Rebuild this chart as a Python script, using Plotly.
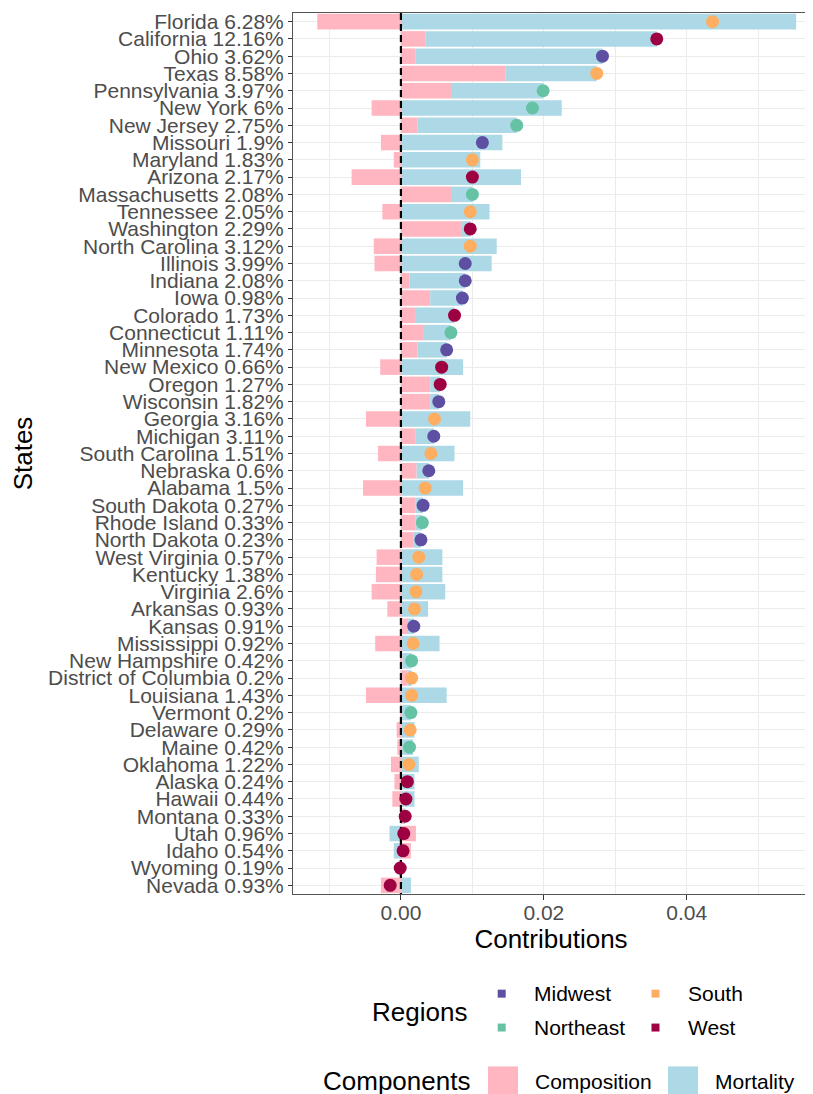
import plotly.graph_objects as go

states = ["Florida", "California", "Ohio", "Texas", "Pennsylvania", "New York", "New Jersey",
          "Missouri", "Maryland", "Arizona", "Massachusetts", "Tennessee", "Washington",
          "North Carolina", "Illinois", "Indiana", "Iowa", "Colorado", "Connecticut", "Minnesota",
          "New Mexico", "Oregon", "Wisconsin", "Georgia", "Michigan", "South Carolina", "Nebraska",
          "Alabama", "South Dakota", "Rhode Island", "North Dakota", "West Virginia", "Kentucky",
          "Virginia", "Arkansas", "Kansas", "Mississippi", "New Hampshire", "District of Columbia",
          "Louisiana", "Vermont", "Delaware", "Maine", "Oklahoma", "Alaska", "Hawaii", "Montana",
          "Utah", "Idaho", "Wyoming", "Nevada"]
shares = ["6.28%", "12.16%", "3.62%", "8.58%", "3.97%", "6%", "2.75%", "1.9%", "1.83%", "2.17%",
          "2.08%", "2.05%", "2.29%", "3.12%", "3.99%", "2.08%", "0.98%", "1.73%", "1.11%", "1.74%",
          "0.66%", "1.27%", "1.82%", "3.16%", "3.11%", "1.51%", "0.6%", "1.5%", "0.27%", "0.33%",
          "0.23%", "0.57%", "1.38%", "2.6%", "0.93%", "0.91%", "0.92%", "0.42%", "0.2%", "1.43%",
          "0.2%", "0.29%", "0.42%", "1.22%", "0.24%", "0.44%", "0.33%", "0.96%", "0.54%", "0.19%",
          "0.93%"]
regions = ["South", "West", "Midwest", "South", "Northeast", "Northeast", "Northeast", "Midwest",
           "South", "West", "Northeast", "South", "West", "South", "Midwest", "Midwest", "Midwest",
           "West", "Northeast", "Midwest", "West", "West", "Midwest", "South", "Midwest", "South",
           "Midwest", "South", "Midwest", "Northeast", "Midwest", "South", "South", "South", "South",
           "Midwest", "South", "Northeast", "South", "South", "Northeast", "South", "Northeast",
           "South", "West", "West", "West", "West", "West", "West", "West"]
composition = [-0.0117, 0.0034, 0.0020, 0.0146, 0.0070, -0.0041, 0.0023, -0.0028, -0.0010, -0.0069,
               0.0070, -0.0026, 0.0084, -0.0038, -0.0037, 0.0012, 0.0041, 0.0021, 0.0031, 0.0023,
               -0.0029, 0.0041, 0.0041, -0.0049, 0.0020, -0.0032, 0.0022, -0.0053, 0.0020, 0.0020,
               0.0018, -0.0034, -0.0035, -0.0041, -0.0019, 0.0010, -0.0036, 0.0002, 0.0009, -0.0049,
               0.0001, -0.0006, -0.0005, -0.0014, -0.0009, -0.0012, 0.0003, 0.0021, 0.0014, 0.0001,
               -0.0028]
mortality = [0.0553, 0.0324, 0.0262, 0.0128, 0.0129, 0.0225, 0.0139, 0.0142, 0.0111, 0.0168,
             0.0030, 0.0124, 0.0013, 0.0134, 0.0127, 0.0078, 0.0045, 0.0054, 0.0039, 0.0041,
             0.0087, 0.0014, 0.0012, 0.0097, 0.0026, 0.0075, 0.0017, 0.0087, 0.0011, 0.0010,
             0.0010, 0.0058, 0.0058, 0.0062, 0.0038, 0.0008, 0.0054, 0.0013, 0.0006, 0.0064,
             0.0013, 0.0019, 0.0017, 0.0025, 0.0019, 0.0019, 0.0003, -0.0016, -0.0010, -0.0003,
             0.0014]
total = [0.0436, 0.0358, 0.0282, 0.0274, 0.0199, 0.0184, 0.0162, 0.0114, 0.0100, 0.0100,
         0.0100, 0.0097, 0.0097, 0.0097, 0.0090, 0.0090, 0.0086, 0.0075, 0.0070, 0.0064,
         0.0057, 0.0055, 0.0053, 0.0047, 0.0046, 0.0042, 0.0039, 0.0034, 0.0031, 0.0030,
         0.0028, 0.0025, 0.0022, 0.0021, 0.0019, 0.0018, 0.0017, 0.0015, 0.0015, 0.0015,
         0.0014, 0.0013, 0.0012, 0.0011, 0.0009, 0.0007, 0.0006, 0.0004, 0.0003, -0.0001,
         -0.0015]
x_tickvals = [0.0, 0.02, 0.04]
x_ticktext = ["0.00", "0.02", "0.04"]
region_order = ["Midwest", "Northeast", "South", "West"]
region_colors = {"Midwest": "#5E4FA2", "Northeast": "#66C2A5", "South": "#FDAE61", "West": "#9E0142"}
comp_color = "#FFB6C1"
mort_color = "#ADD8E6"

labels = [f"{s} {p}" for s, p in zip(states, shares)]
ypos = list(range(len(states)))

FONT = "Liberation Sans, Arial, Helvetica, sans-serif"
OFF = 8  # page body margin offset
W, H = 813 - OFF, 1094 - OFF
ML, MR, MT, MB = 293 - OFF, 4, 10 - OFF, 200
PW, PH = W - ML - MR, H - MT - MB


def px(x):
    return (x - OFF - ML) / PW


def py(y):
    return (OFF + H - MB - y) / PH


fig = go.Figure()
fig.add_trace(go.Bar(y=ypos, x=composition, orientation="h", marker=dict(color=comp_color, line=dict(width=0)),
                     name="Composition", showlegend=False))
fig.add_trace(go.Bar(y=ypos, x=mortality, orientation="h", marker=dict(color=mort_color, line=dict(width=0)),
                     name="Mortality", showlegend=False))
# dashed reference line at zero (drawn between bars and points)
fig.add_trace(go.Scatter(x=[0, 0], y=[-0.5, len(states) - 0.5], mode="lines",
                         line=dict(color="black", width=2.2, dash="7px,4px"), showlegend=False,
                         hoverinfo="skip"))
for reg in region_order:
    idx = [i for i, r in enumerate(regions) if r == reg]
    fig.add_trace(go.Scatter(x=[total[i] for i in idx], y=[ypos[i] for i in idx], mode="markers",
                             marker=dict(size=13, color=region_colors[reg], line=dict(width=0)),
                             name=reg, showlegend=False))

fig.update_layout(
    width=W, height=H, margin=dict(l=ML, r=MR, t=MT, b=MB),
    plot_bgcolor="white", paper_bgcolor="white",
    barmode="relative", bargap=0.1, showlegend=False,
    font=dict(family=FONT, color="black"),
)
fig.update_xaxes(
    range=[-0.0151, 0.0571], tickvals=x_tickvals, ticktext=x_ticktext,
    showgrid=True, gridcolor="#EBEBEB", gridwidth=1.1, zeroline=False,
    minor=dict(tickvals=[-0.01, 0.01, 0.03, 0.05], showgrid=True, gridcolor="#EBEBEB", gridwidth=0.6, ticks=""),
    ticks="outside", ticklen=5, tickcolor="#333333", tickwidth=1,
    ticklabelstandoff=-5, ticklabeloverflow="allow",
    tickfont=dict(size=21, color="#4D4D4D", family=FONT),
    showline=True, mirror=True, linecolor="#555555", linewidth=1,
    title=dict(text="Contributions", font=dict(size=26, color="black", family=FONT), standoff=6),
)
fig.update_yaxes(
    range=[len(states) - 0.5, -0.5], tickvals=ypos, ticktext=labels,
    showgrid=True, gridcolor="#EBEBEB", gridwidth=1.1, zeroline=False,
    ticks="outside", ticklen=4, tickcolor="#333333", tickwidth=1,
    ticklabeloverflow="allow",
    tickfont=dict(size=21, color="#4D4D4D", family=FONT),
    showline=True, mirror=True, linecolor="#555555", linewidth=1,
    title=dict(text="States", font=dict(size=26, color="black", family=FONT), standoff=9),
)

annotations = []
shapes = []


def text(t, x, y, size, anchor):
    annotations.append(dict(text=t, x=px(x), y=py(y), xref="paper", yref="paper", showarrow=False,
                            xanchor=anchor, yanchor="middle", font=dict(size=size, color="black", family=FONT)))


def square(cx, cy, s, color):
    shapes.append(dict(type="rect", xref="paper", yref="paper", x0=px(cx - s / 2), x1=px(cx + s / 2),
                       y0=py(cy + s / 2), y1=py(cy - s / 2), fillcolor=color, line=dict(width=0)))


text("Regions", 469, 1012, 26, "right")
legend_pos = {"Midwest": (501.7, 994), "South": (655.5, 994), "Northeast": (501.7, 1028), "West": (655.5, 1028)}
for reg in region_order:
    cx, cy = legend_pos[reg]
    square(cx, cy, 8, region_colors[reg])
    text(reg, cx + 30.5, cy, 21, "left")

text("Components", 472, 1082, 26, "right")
square(503, 1082, 30, comp_color)
text("Composition", 533, 1082, 21, "left")
square(683, 1082, 30, mort_color)
text("Mortality", 713, 1082, 21, "left")

fig.update_layout(annotations=annotations, shapes=shapes)
fig.write_html("out.html")
